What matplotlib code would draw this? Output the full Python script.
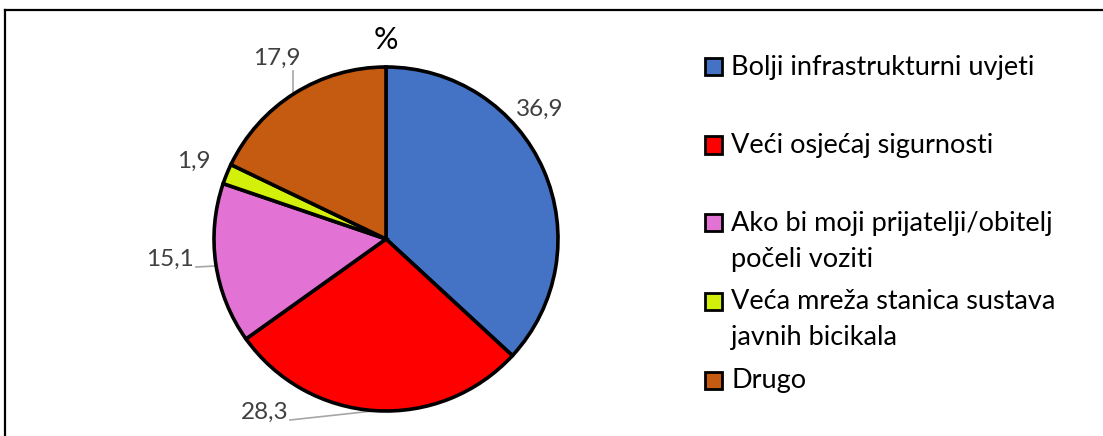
import matplotlib
matplotlib.use("Agg")
import matplotlib.pyplot as plt
from matplotlib.patches import Rectangle
from matplotlib.lines import Line2D

# ---- data ----
categories = [
    "Bolji infrastrukturni uvjeti",
    "Veći osjećaj sigurnosti",
    "Ako bi moji prijatelji/obitelj\npočeli voziti",
    "Veća mreža stanica sustava\njavnih bicikala",
    "Drugo",
]
values = [36.9, 28.3, 15.1, 1.9, 17.9]
value_labels = ["36,9", "28,3", "15,1", "1,9", "17,9"]
title = "%"

colors = ["#4472C4", "#FF0000", "#E273D4", "#D2F00A", "#C55A11"]

W, H = 1103, 436
DPI = 100
plt.rcParams['font.family'] = ['Lato', 'DejaVu Sans']

fig = plt.figure(figsize=(W / DPI, H / DPI), dpi=DPI)
fig.patch.set_facecolor("white")

# pie axes: center (386,239) px, radius 172 px
cx, cy, R = 386, 239, 172
L = 1.45
size = 2 * L * R
ax = fig.add_axes([(cx - size / 2) / W, (H - cy - size / 2) / H, size / W, size / H])
ax.pie(values, colors=colors, startangle=90, counterclock=False, radius=1,
       wedgeprops=dict(edgecolor="black", linewidth=2.6))
ax.set_xlim(-L, L)
ax.set_ylim(-L, L)
ax.set_aspect("equal")
ax.axis("off")

def px2d(x, y):
    return ((x - cx) / R, (cy - y) / R)

label_px = [(540, 109), (265, 412), (170, 259), (194, 161), (277, 58)]
for lab, (x, y) in zip(value_labels, label_px):
    dx, dy = px2d(x, y)
    ax.text(dx, dy, lab, ha="center", va="center", fontsize=17.5, color="#404040",
            clip_on=False)

leaders = [((290, 420), (373, 411)), ((196, 267), (215, 266)), ((293, 71), (293, 92))]
for (p1, p2) in leaders:
    a = px2d(*p1)
    b = px2d(*p2)
    ax.plot([a[0], b[0]], [a[1], b[1]], color="#A6A6A6", linewidth=1.2,
            clip_on=False, zorder=0)

tx, ty = px2d(386, 40)
ax.text(tx, ty, title, ha="center", va="center", fontsize=22, color="black",
        clip_on=False)

# legend (manual layout in figure pixels)
row_y = [67, 145, 223, 301, 380]
line_gap = 35.6
ms = 17
for lab, col, y in zip(categories, colors, row_y):
    fig.patches.append(Rectangle(((713 - ms / 2) / W, (H - y - ms / 2) / H),
                                 ms / W, ms / H, transform=fig.transFigure,
                                 facecolor=col, edgecolor="black", linewidth=2.0))
    for i, line in enumerate(lab.split("\n")):
        fig.text(731 / W, (H - (y + 8 + i * line_gap)) / H, line, ha="left",
                 va="baseline", fontsize=19.5, color="black")

# outer border (cropped chart frame)
fig.add_artist(Line2D([5 / W, 1.0], [(H - 10) / H, (H - 10) / H],
                      transform=fig.transFigure, color="black", linewidth=1.6))
fig.add_artist(Line2D([5 / W, 5 / W], [0, (H - 10) / H],
                      transform=fig.transFigure, color="black", linewidth=1.6))

fig.savefig("out.png", dpi=DPI, facecolor="white")
